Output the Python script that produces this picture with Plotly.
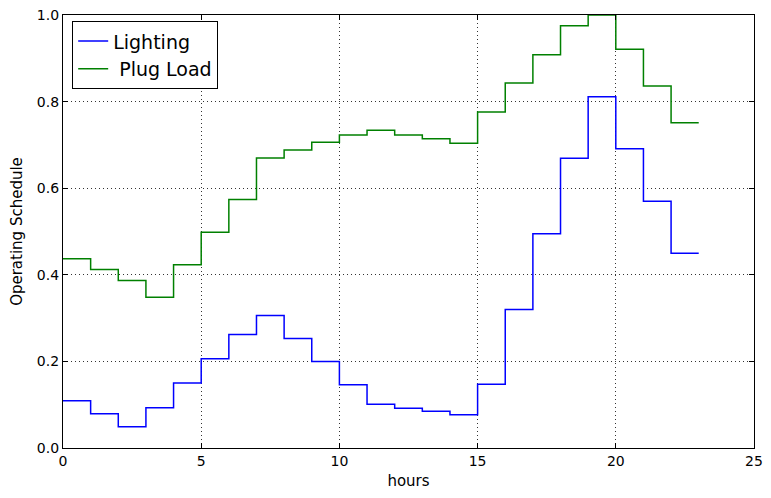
import plotly.graph_objects as go

hours = list(range(24))

lighting = [0.109, 0.079, 0.049, 0.093, 0.150, 0.206, 0.262, 0.306, 0.253, 0.200,
            0.146, 0.101, 0.092, 0.085, 0.077, 0.147, 0.320, 0.495, 0.669, 0.811,
            0.691, 0.570, 0.450, 0.450]

plug_load = [0.437, 0.412, 0.387, 0.348, 0.423, 0.498, 0.574, 0.670, 0.688, 0.706,
             0.723, 0.734, 0.723, 0.714, 0.704, 0.776, 0.843, 0.908, 0.975, 1.000,
             0.921, 0.836, 0.751, 0.751]

x_ticks = [0, 5, 10, 15, 20, 25]
y_ticks = [0.0, 0.2, 0.4, 0.6, 0.8, 1.0]
y_labels = ["0.0", "0.2", "0.4", "0.6", "0.8", "1.0"]

FONT = "DejaVu Sans"

fig = go.Figure()
fig.add_trace(go.Scatter(x=hours, y=lighting, mode="lines", name="Lighting",
                         line=dict(color="#0000ff", width=1.5, shape="hv")))
fig.add_trace(go.Scatter(x=hours, y=plug_load, mode="lines", name=" Plug Load",
                         line=dict(color="#008000", width=1.5, shape="hv")))

axis_common = dict(
    showline=True, linecolor="black", linewidth=1.2, mirror="ticks",
    ticks="inside", ticklen=5, tickcolor="black", tickwidth=1,
    showgrid=True, gridcolor="#333333", gridwidth=0.8, griddash="1px,3px",
    zeroline=False, automargin=False, ticklabeloverflow="allow",
    tickfont=dict(family=FONT, size=14, color="black"),
)

fig.update_xaxes(range=[0, 25], tickvals=x_ticks,
                 title=dict(text="hours", font=dict(family=FONT, size=15, color="black"), standoff=12),
                 **axis_common)
fig.update_yaxes(range=[0, 1], tickvals=y_ticks, ticktext=y_labels,
                 title=dict(text="Operating Schedule", font=dict(family=FONT, size=15, color="black"), standoff=10),
                 **axis_common)

# the page puts the figure 8px in from the top-left corner, so size it to the window minus that;
# leave a little room on the right so the "25" tick label is not cut
fig.update_layout(
    width=763, height=482,
    margin=dict(l=55, r=17, t=7, b=42),
    paper_bgcolor="white", plot_bgcolor="white",
    font=dict(family=FONT, color="black"),
    showlegend=True,
    legend=dict(x=0.013, y=0.986, xanchor="left", yanchor="top",
                bgcolor="white", bordercolor="black", borderwidth=1.2,
                font=dict(family=FONT, size=19, color="black"),
                itemwidth=30, tracegroupgap=0),
)

fig.write_html("out.html")
